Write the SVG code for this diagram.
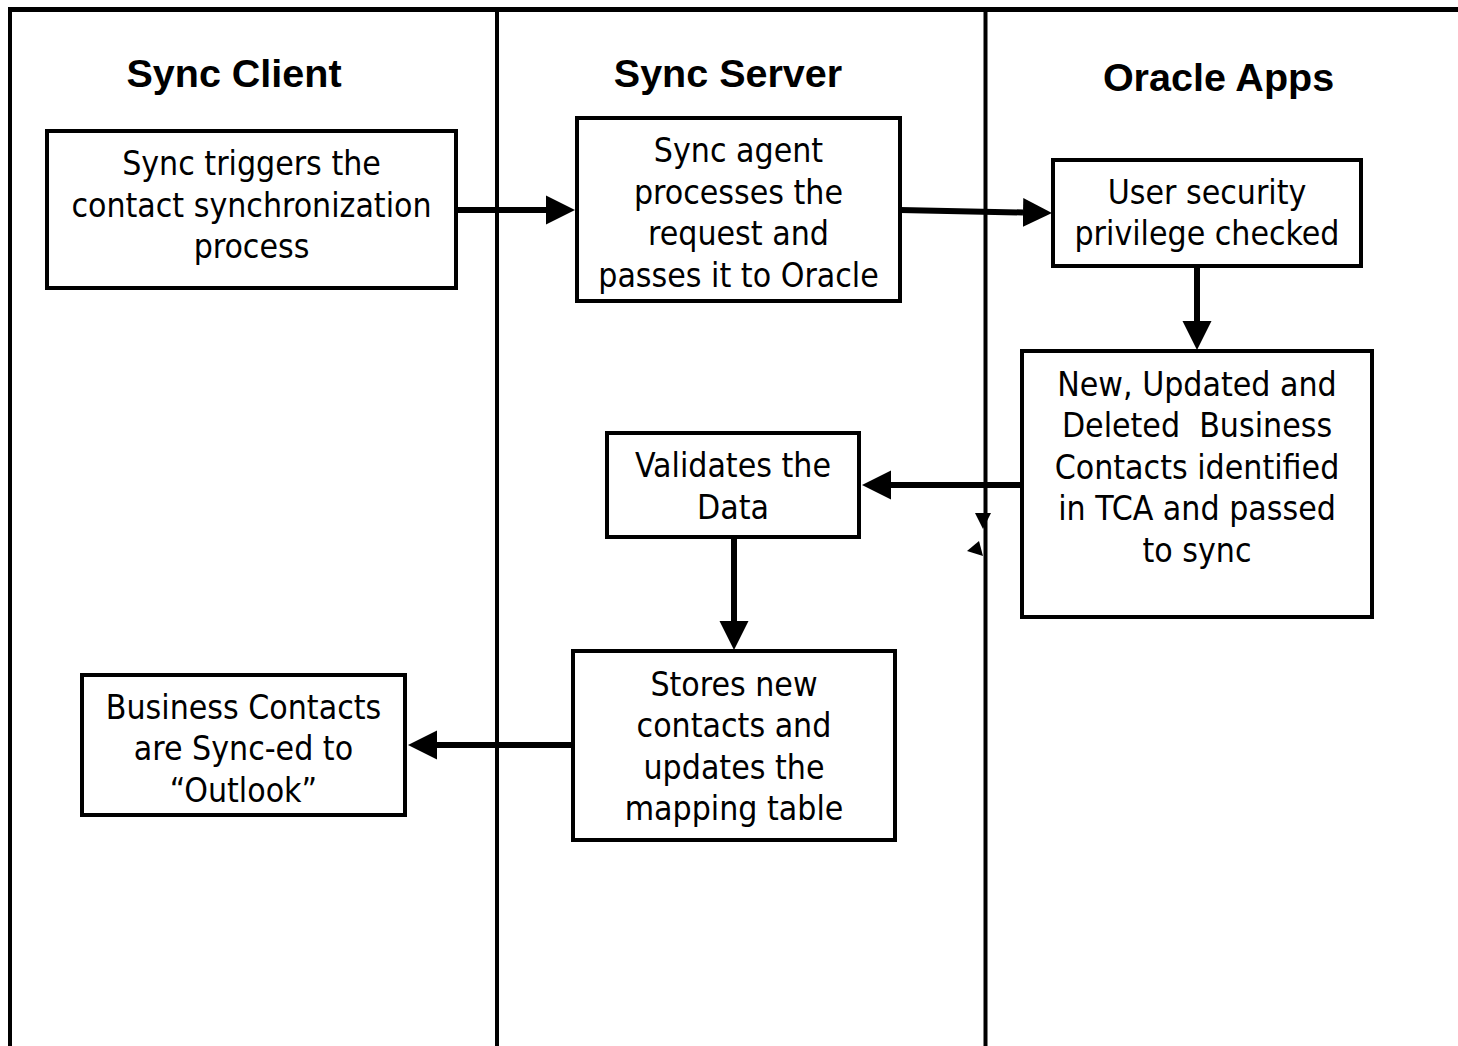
<svg xmlns="http://www.w3.org/2000/svg" width="1458" height="1046" viewBox="0 0 1458 1046">
<style>
.lane{stroke:#000;stroke-width:4;fill:none}
.box{fill:#fff;stroke:#000;stroke-width:4}
.hdr{font-family:"Liberation Sans",Arial,sans-serif;font-weight:bold;font-size:39.5px;text-anchor:middle;fill:#000}
.t{font-family:"DejaVu Sans Condensed","DejaVu Sans",sans-serif;font-stretch:condensed;font-size:33.5px;text-anchor:middle;fill:#000;white-space:pre}
.arr{stroke:#000;stroke-width:6;fill:none;marker-end:url(#head)}
</style>
<defs>
<marker id="head" markerUnits="userSpaceOnUse" markerWidth="30" markerHeight="30" refX="0" refY="15" orient="auto" viewBox="0 0 30 30">
<path d="M0,0.5 L29,15 L0,29.5 Z" fill="#000"/>
</marker>
</defs>
<rect width="1458" height="1046" fill="#fff"/>
<g id="lanes">
<line class="lane" x1="8" y1="9.5" x2="1458" y2="9.5" style="stroke-width:5"/>
<line class="lane" x1="10" y1="8" x2="10" y2="1046"/>
<line class="lane" x1="497" y1="8" x2="497" y2="1046"/>
<line class="lane" x1="985.5" y1="8" x2="985.5" y2="1046"/>
<text class="hdr" x="234" y="87">Sync Client</text>
<text class="hdr" x="728" y="87">Sync Server</text>
<text class="hdr" x="1218.5" y="91">Oracle Apps</text>
</g>
<g id="connectors">
<line class="arr" x1="456" y1="210" x2="546" y2="210"/>
<line class="arr" x1="900" y1="210" x2="1023" y2="212.5"/>
<line class="arr" x1="1197" y1="266" x2="1197" y2="321"/>
<line class="arr" x1="1021" y1="485" x2="891" y2="485"/>
<line class="arr" x1="734" y1="537" x2="734" y2="621"/>
<line class="arr" x1="573" y1="745" x2="437" y2="745"/>
<polygon points="975,513 991,513 983,529" fill="#000"/>
<polygon points="967,551 979,541 983,556" fill="#000"/>
</g>
<g id="n1">
<rect class="box" x="47" y="131" width="409" height="157"/>
<text class="t" x="251.5" y="175">Sync triggers the</text>
<text class="t" x="251.5" y="216.5">contact synchronization</text>
<text class="t" x="251.5" y="258">process</text>
</g>
<g id="n2">
<rect class="box" x="577" y="118" width="323" height="183"/>
<text class="t" x="738.5" y="162">Sync agent</text>
<text class="t" x="738.5" y="203.5">processes the</text>
<text class="t" x="738.5" y="245">request and</text>
<text class="t" x="738.5" y="286.5">passes it to Oracle</text>
</g>
<g id="n3">
<rect class="box" x="1053" y="160" width="308" height="106"/>
<text class="t" x="1207" y="204">User security</text>
<text class="t" x="1207" y="245">privilege checked</text>
</g>
<g id="n4">
<rect class="box" x="1022" y="351" width="350" height="266"/>
<text class="t" x="1197" y="395.5">New, Updated and</text>
<text class="t" x="1197" y="437">Deleted  Business</text>
<text class="t" x="1197" y="478.5">Contacts identified</text>
<text class="t" x="1197" y="520">in TCA and passed</text>
<text class="t" x="1197" y="561.5">to sync</text>
</g>
<g id="n5">
<rect class="box" x="607" y="433" width="252" height="104"/>
<text class="t" x="733" y="477">Validates the</text>
<text class="t" x="733" y="518.5">Data</text>
</g>
<g id="n6">
<rect class="box" x="573" y="651" width="322" height="189"/>
<text class="t" x="734" y="695.5">Stores new</text>
<text class="t" x="734" y="737">contacts and</text>
<text class="t" x="734" y="778.5">updates the</text>
<text class="t" x="734" y="820">mapping table</text>
</g>
<g id="n7">
<rect class="box" x="82" y="675" width="323" height="140"/>
<text class="t" x="243.5" y="718.5">Business Contacts</text>
<text class="t" x="243.5" y="760">are Sync-ed to</text>
<text class="t" x="243.5" y="801.5">“Outlook”</text>
</g>
</svg>
